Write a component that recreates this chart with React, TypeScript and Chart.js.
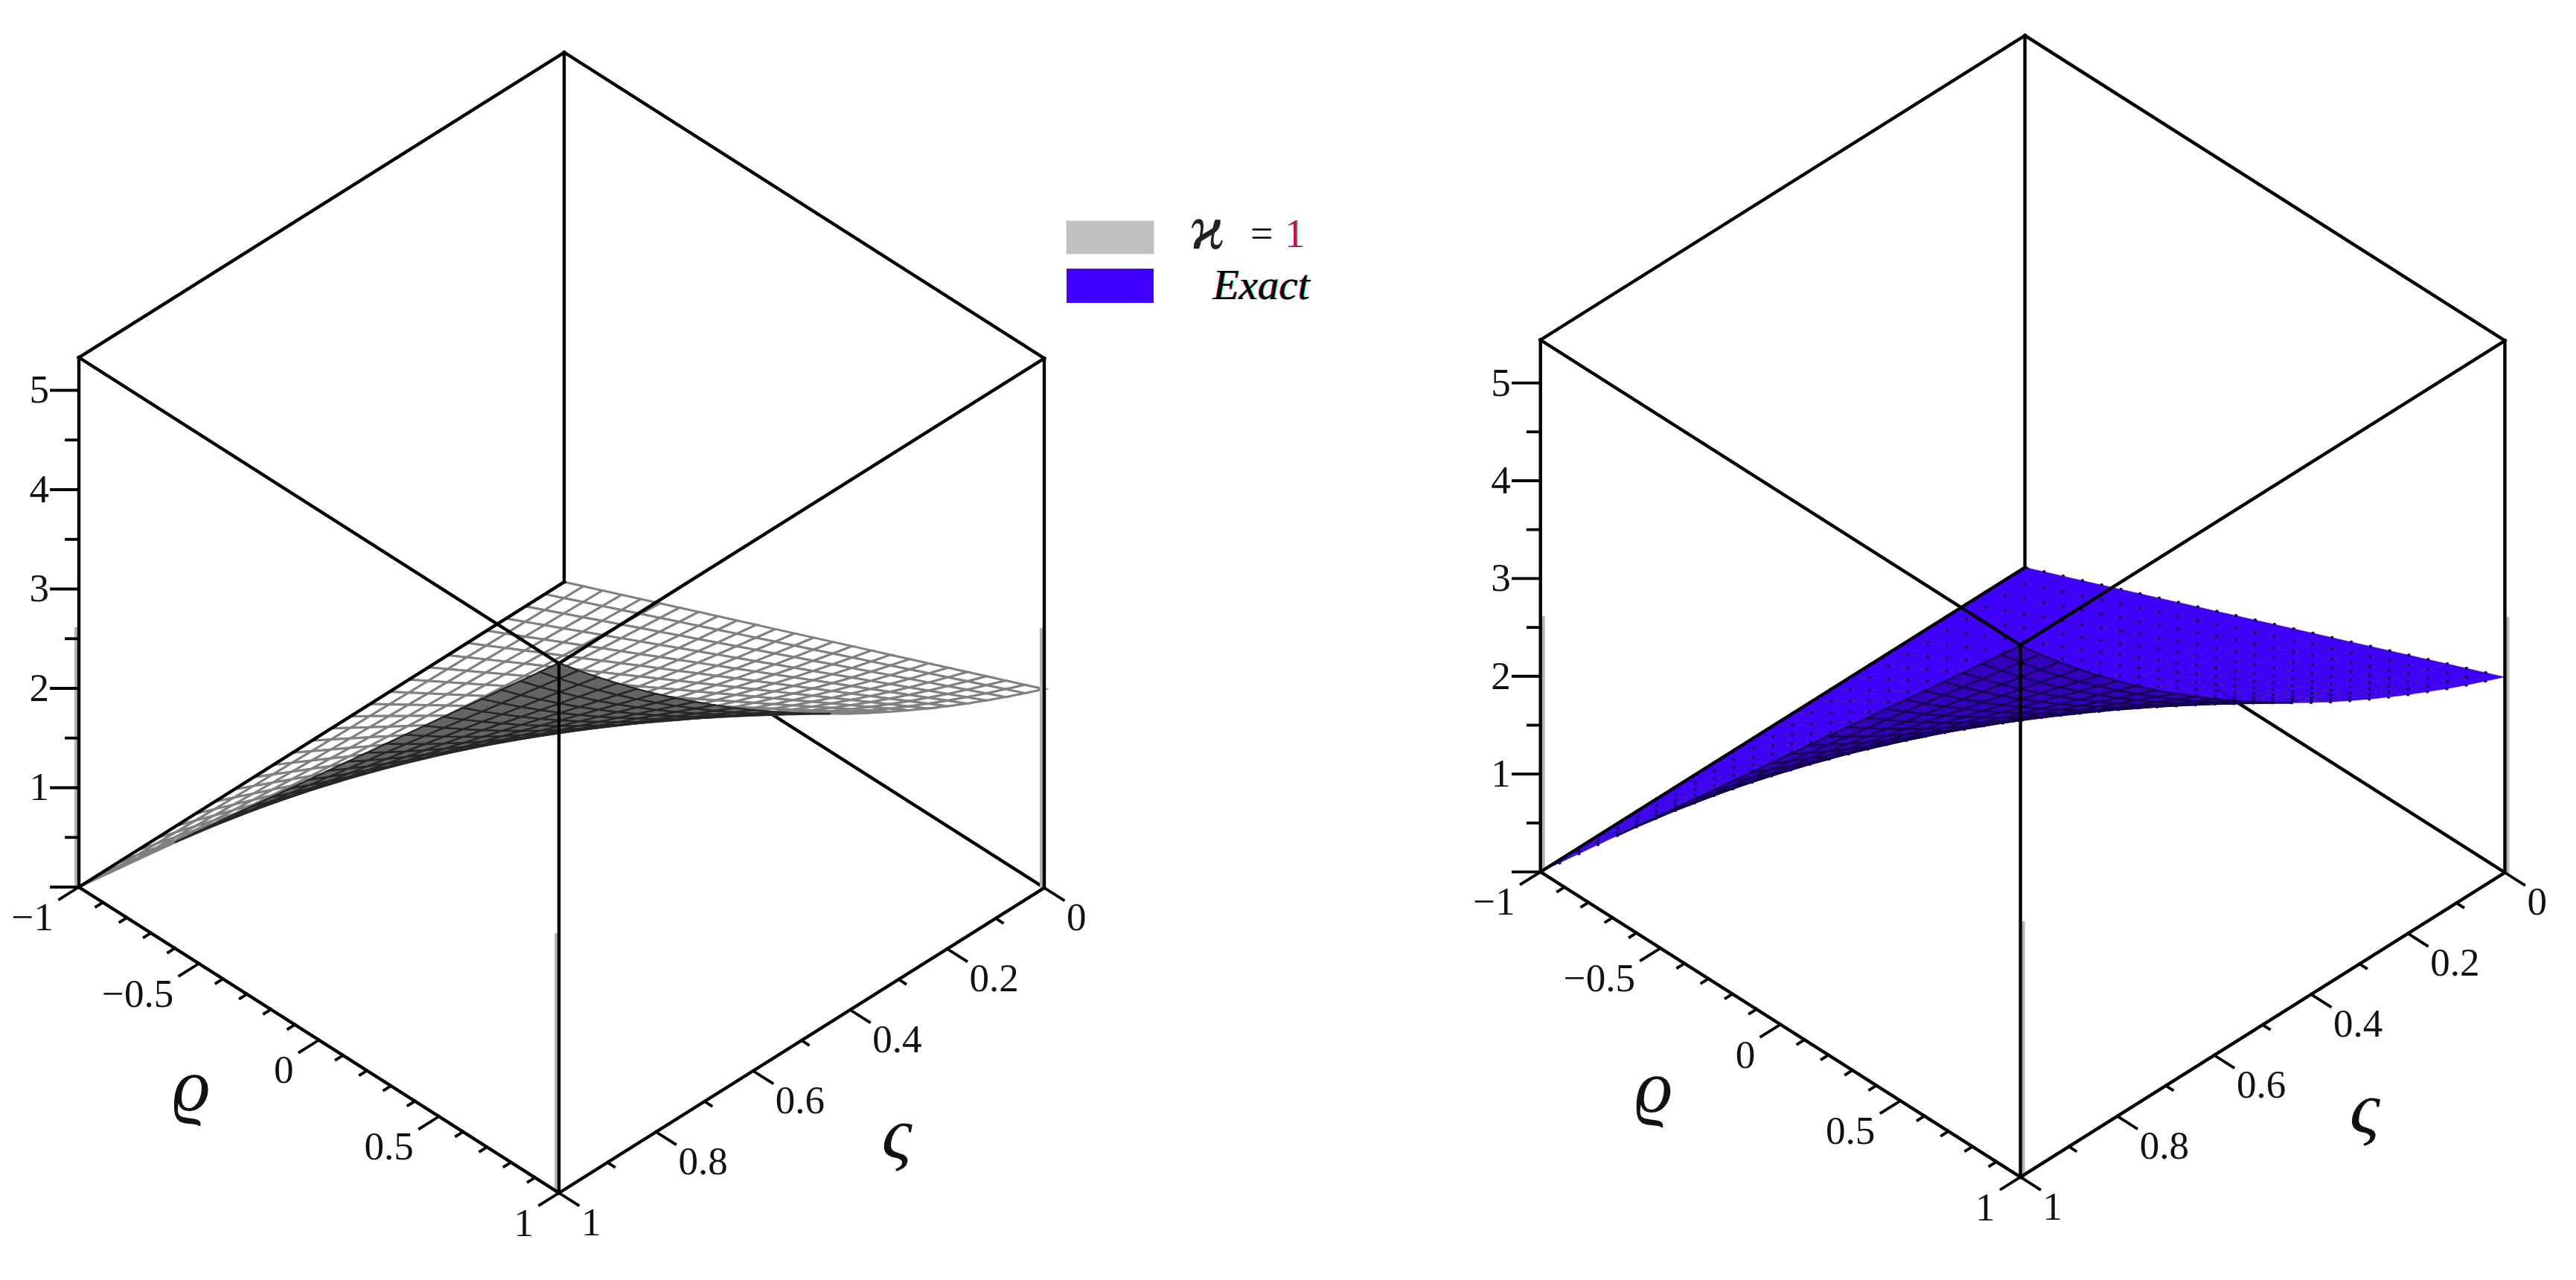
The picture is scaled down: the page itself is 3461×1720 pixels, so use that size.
import { useEffect, useRef } from 'react';
import { Chart, registerables } from 'chart.js';

Chart.register(...registerables);

const PAGE_W = 3461;
const PAGE_H = 1720;
const SERIF = '"Liberation Serif", "DejaVu Serif", serif';

// grid of the surface, 25 cells each way
const rhoGrid = [-1, -0.92, -0.84, -0.76, -0.68, -0.6, -0.52, -0.44, -0.36, -0.28, -0.2, -0.12, -0.04, 0.04, 0.12, 0.2, 0.28, 0.36, 0.44, 0.52, 0.6, 0.68, 0.76, 0.84, 0.92, 1];
const varsigmaGrid = [0, 0.04, 0.08, 0.12, 0.16, 0.2, 0.24, 0.28, 0.32, 0.36, 0.4, 0.44, 0.48, 0.52, 0.56, 0.6, 0.64, 0.68, 0.72, 0.76, 0.8, 0.84, 0.88, 0.92, 0.96, 1];

// height of the surface along its edges
const riseByRho = [0, 0.08, 0.16, 0.24, 0.32, 0.4, 0.48, 0.56, 0.64, 0.72, 0.8, 0.88, 0.96, 1.04, 1.12, 1.2, 1.28, 1.36, 1.44, 1.52, 1.6, 1.68, 1.76, 1.84, 1.92, 2];
const gainApprox = [1, 1.041, 1.083, 1.127, 1.173, 1.221, 1.271, 1.323, 1.377, 1.433, 1.491, 1.552, 1.614, 1.679, 1.746, 1.816, 1.888, 1.964, 2.042, 2.122, 2.205, 2.291, 2.381, 2.473, 2.568, 2.667];
const gainExact = [1, 1.041, 1.083, 1.127, 1.174, 1.221, 1.271, 1.323, 1.377, 1.433, 1.492, 1.553, 1.616, 1.682, 1.751, 1.822, 1.896, 1.974, 2.054, 2.138, 2.226, 2.316, 2.411, 2.509, 2.612, 2.718];

// axes
const rhoMajor = [-1, -0.5, 0, 0.5, 1];
const rhoLabels = ['\u22121', '\u22120.5', '0', '0.5', '1'];
const rhoMinor = [-0.9, -0.8, -0.7, -0.6, -0.4, -0.3, -0.2, -0.1, 0.1, 0.2, 0.3, 0.4, 0.6, 0.7, 0.8, 0.9];
const varsigmaMajor = [0, 0.2, 0.4, 0.6, 0.8, 1];
const varsigmaLabels = ['0', '0.2', '0.4', '0.6', '0.8', '1'];
const varsigmaMinor = [0.1, 0.3, 0.5, 0.7, 0.9];
const zMajor = [0, 1, 2, 3, 4, 5];
const zLabels = ['', '1', '2', '3', '4', '5'];
const zMinor = [0.5, 1.5, 2.5, 3.5, 4.5];

interface View {
  left: number; // canvas position on the page
  width: number;
  A: [number, number]; // rho=-1, varsigma=1, z=0 in canvas px
  bottom: [number, number]; // rho=1, varsigma=1
  right: [number, number]; // rho=1, varsigma=0
  zUnit: number;
  zTop: number;
  gain: number[];
  rhoTitle: [number, number];
  varsigmaTitle: [number, number];
  frontFill: string;
  frontLine: string;
  frontLineWidth: number;
  backFill: string;
  backLine: string;
  backLineWidth: number;
  vertexDot: number;
  dotColor: string;
  ghost: number;
}

const leftView: View = {
  left: 0,
  width: 1780,
  A: [106, 1192],
  bottom: [751, 1603],
  right: [1403, 1193],
  zUnit: 133.5,
  zTop: 5.33,
  gain: gainApprox,
  rhoTitle: [257, 1466],
  varsigmaTitle: [1205, 1530],
  frontFill: '#ffffff',
  frontLine: '#808080',
  frontLineWidth: 3,
  backFill: '#646464',
  backLine: '#262626',
  backLineWidth: 2.4,
  vertexDot: 0,
  dotColor: '#000',
  ghost: -4,
};

const rightView: View = {
  left: 1800,
  width: 1661,
  A: [267, 1173],
  bottom: [915, 1585],
  right: [1569, 1174],
  zUnit: 132,
  zTop: 5.44,
  gain: gainExact,
  rhoTitle: [420, 1471],
  varsigmaTitle: [1380, 1499],
  frontFill: '#4000ff',
  frontLine: 'rgba(40,0,140,0.35)',
  frontLineWidth: 1.2,
  backFill: '#3400bc',
  backLine: '#140050',
  backLineWidth: 2.4,
  vertexDot: 2,
  dotColor: '#1b0a6e',
  ghost: 4,
};

function project(v: View, rho: number, varsigma: number, z: number) {
  const a = (rho + 1) / 2;
  const b = 1 - varsigma;
  return {
    x: v.A[0] + a * (v.bottom[0] - v.A[0]) + b * (v.right[0] - v.bottom[0]),
    y: v.A[1] + a * (v.bottom[1] - v.A[1]) + b * (v.right[1] - v.bottom[1]) - z * v.zUnit,
  };
}

function segment(p: { x: number; y: number }, q: { x: number; y: number }, width = 4.4, color = '#000') {
  return {
    type: 'scatter' as const,
    data: [p, q],
    showLine: true,
    borderColor: color,
    borderWidth: width,
    pointRadius: 0,
    fill: false,
    borderCapStyle: 'square' as const,
  };
}

function signedArea(pts: { x: number; y: number }[]) {
  let s = 0;
  for (let i = 0; i < pts.length - 1; i++) s += pts[i].x * pts[i + 1].y - pts[i + 1].x * pts[i].y;
  return s / 2;
}

function buildDatasets(v: View) {
  const T = v.zTop;
  const P = (r: number, s: number, z: number) => project(v, r, s, z);

  const front: any[] = [];
  const back: any[] = [];
  const corner = (i: number, j: number) => P(rhoGrid[i], varsigmaGrid[j], riseByRho[i] * v.gain[j]);
  const refSign = Math.sign(signedArea([corner(0, 0), corner(1, 0), corner(1, 1), corner(0, 1), corner(0, 0)]));

  for (let j = 0; j < varsigmaGrid.length - 1; j++) {
    for (let i = 0; i < rhoGrid.length - 1; i++) {
      const cell = [corner(i, j), corner(i + 1, j), corner(i + 1, j + 1), corner(i, j + 1), corner(i, j)];
      const isFront = Math.sign(signedArea(cell)) === refSign;
      const ds = {
        type: 'scatter' as const,
        data: cell,
        showLine: true,
        fill: 'shape',
        backgroundColor: isFront ? v.frontFill : v.backFill,
        borderColor: isFront ? v.frontLine : v.backLine,
        borderWidth: isFront ? v.frontLineWidth : v.backLineWidth,
        pointRadius: isFront ? v.vertexDot : 0,
        pointBorderWidth: 0,
        pointBackgroundColor: v.dotColor,
      };
      (isFront ? front : back).push(ds);
    }
  }

  // soft grey edge next to the lower verticals, as in the scan
  const ghostOf = (r: number, s: number) => {
    const a = P(r, s, 0);
    const b = P(r, s, 2.6);
    return segment({ x: a.x + v.ghost, y: a.y }, { x: b.x + v.ghost, y: b.y }, 4, '#b4b4b4');
  };
  const ghosts = [ghostOf(-1, 1), ghostOf(1, 1), ghostOf(1, 0)];

  // box edges in front of the surface
  const box = [
    segment(P(-1, 1, 0), P(1, 1, 0)),
    segment(P(1, 1, 0), P(1, 0, 0)),
    segment(P(-1, 1, 0), P(-1, 0, 0)),
    segment(P(-1, 1, 0), P(-1, 1, T)),
    segment(P(1, 1, 0), P(1, 1, T)),
    segment(P(1, 0, 0), P(1, 0, T)),
    segment(P(-1, 0, 0), P(-1, 0, T)),
    segment(P(-1, 1, T), P(-1, 0, T)),
    segment(P(-1, 0, T), P(1, 0, T)),
    segment(P(-1, 1, T), P(1, 1, T)),
    segment(P(1, 1, T), P(1, 0, T)),
  ];

  // tick marks
  const ticks: any[] = [];
  rhoMajor.forEach((r) => ticks.push(segment(P(r, 1, 0), P(r, 1.04, 0), 3.8)));
  rhoMinor.forEach((r) => ticks.push(segment(P(r, 1, 0), P(r, 1.014, 0), 3.8)));
  varsigmaMajor.forEach((s) => ticks.push(segment(P(1, s, 0), P(1.08, s, 0), 3.8)));
  varsigmaMinor.forEach((s) => ticks.push(segment(P(1, s, 0), P(1.028, s, 0), 3.8)));
  const zAxisX = P(-1, 1, 0).x;
  zMajor.forEach((z) => {
    const a = P(-1, 1, z);
    ticks.push(segment(a, { x: zAxisX - 37, y: a.y }, 3.8));
  });
  zMinor.forEach((z) => {
    const a = P(-1, 1, z);
    ticks.push(segment(a, { x: zAxisX - 17, y: a.y }, 3.8));
  });

  // listed back to front; chart.js paints the last dataset first, so reverse
  const ordered = [segment(P(-1, 0, 0), P(1, 0, 0)), ...front, ...back, ...ghosts, ...box, ...ticks];
  return ordered.reverse();
}

function makeLabelPlugin(v: View) {
  return {
    id: 'axisText',
    afterDraw(chart: Chart) {
      const { ctx } = chart;
      const sx = chart.scales.x;
      const sy = chart.scales.y;
      const px = (p: { x: number; y: number }) => ({ x: sx.getPixelForValue(p.x), y: sy.getPixelForValue(p.y) });
      ctx.save();
      ctx.fillStyle = '#111';
      ctx.textBaseline = 'middle';
      ctx.font = `53px ${SERIF}`;

      ctx.textAlign = 'right';
      rhoMajor.forEach((r, i) => {
        const p = px(project(v, r, 1, 0));
        ctx.fillText(rhoLabels[i], p.x - 34, p.y + 44);
      });
      zMajor.forEach((z, i) => {
        const p = px(project(v, -1, 1, z));
        ctx.fillText(zLabels[i], p.x - 40, p.y + 3);
      });

      ctx.textAlign = 'left';
      varsigmaMajor.forEach((s, i) => {
        const p = px(project(v, 1, s, 0));
        ctx.fillText(varsigmaLabels[i], p.x + 30, p.y + 43);
      });

      ctx.textAlign = 'center';
      ctx.font = `italic 100px ${SERIF}`;
      const t1 = px({ x: v.rhoTitle[0], y: v.rhoTitle[1] });
      ctx.fillText('\u03f1', t1.x, t1.y);
      const t2 = px({ x: v.varsigmaTitle[0], y: v.varsigmaTitle[1] });
      ctx.fillText('\u03c2', t2.x, t2.y);
      ctx.restore();
    },
  };
}

function SurfacePlot({ view }: { view: View }) {
  const canvasRef = useRef<HTMLCanvasElement>(null);

  useEffect(() => {
    if (!canvasRef.current) return;
    const chart = new Chart(canvasRef.current, {
      type: 'scatter',
      data: { datasets: buildDatasets(view) as any },
      options: {
        responsive: false,
        animation: false,
        devicePixelRatio: 1,
        layout: { padding: 0 },
        scales: {
          x: { type: 'linear', min: 0, max: view.width, display: false },
          y: { type: 'linear', min: 0, max: PAGE_H, reverse: true, display: false },
        },
        plugins: { legend: { display: false }, tooltip: { enabled: false } },
        elements: { line: { tension: 0 } },
      },
      plugins: [makeLabelPlugin(view)],
    });
    return () => chart.destroy();
  }, [view]);

  return (
    <canvas
      ref={canvasRef}
      width={view.width}
      height={PAGE_H}
      style={{ position: 'absolute', left: view.left, top: 0, width: view.width, height: PAGE_H }}
    />
  );
}

const fringe = '1px 0 #00ffc0, -1px 0 #ff0060';

function Legend() {
  const text = { position: 'absolute' as const, fontFamily: SERIF, lineHeight: 1, whiteSpace: 'nowrap' as const };
  return (
    <>
      <div style={{ position: 'absolute', left: 1433, top: 297, width: 117, height: 44, background: '#c0c0c0', boxShadow: '0 0 0 1px #e6e6e6' }} />
      <div style={{ position: 'absolute', left: 1433, top: 361, width: 117, height: 46, background: '#4000ff' }} />
      <span style={{ ...text, left: 1598, top: 264, fontSize: 84, fontStyle: 'italic', color: '#222' }}>{'\u03f0'}</span>
      <span style={{ ...text, left: 1680, top: 287, fontSize: 54, color: '#111' }}>=</span>
      <span style={{ ...text, left: 1726, top: 287, fontSize: 54, color: '#c8104e', textShadow: '2px 0 #7fffd8' }}>1</span>
      <span style={{ ...text, left: 1630, top: 354, fontSize: 57, fontStyle: 'italic', color: '#000', textShadow: fringe }}>Exact</span>
    </>
  );
}

export default function App() {
  return (
    <div style={{ position: 'absolute', left: 0, top: 0, width: PAGE_W, height: PAGE_H, background: '#fff', overflow: 'hidden' }}>
      <SurfacePlot view={leftView} />
      <SurfacePlot view={rightView} />
      <Legend />
    </div>
  );
}
